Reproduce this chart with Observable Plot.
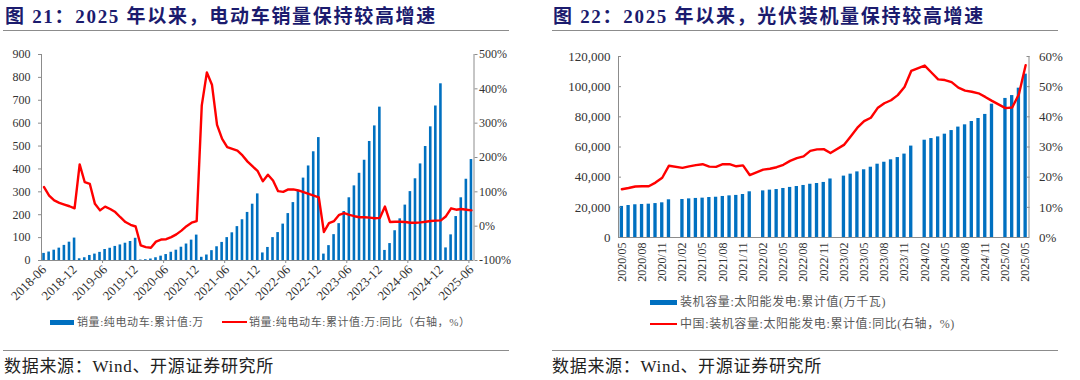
<!DOCTYPE html>
<html><head><meta charset="utf-8">
<script src="https://cdn.jsdelivr.net/npm/d3@7"></script>
<script src="https://cdn.jsdelivr.net/npm/@observablehq/plot@0.6"></script>
<style>
body{margin:0;background:#fff;width:1080px;height:380px;overflow:hidden;position:relative;font-family:"Liberation Serif","Noto Sans CJK SC",serif;}
.title{position:absolute;top:5px;font-weight:bold;color:#1b1b6e;font-size:19px;letter-spacing:1.7px;white-space:nowrap;line-height:24px;}
.rule{position:absolute;height:0;border-top:1.5px solid #8c8c8c;}
.src{position:absolute;top:355px;font-size:17px;letter-spacing:0.7px;color:#222;white-space:nowrap;line-height:24px;}
.chart{position:absolute;top:40px;}
.leg{position:absolute;font-size:11px;color:#595959;white-space:nowrap;line-height:14px;letter-spacing:0.6px;font-family:"Liberation Serif","Noto Sans CJK SC",serif;}
.sw{position:absolute;}
</style></head>
<body>
<div class="title" style="left:5px">图 21：2025 年以来，电动车销量保持较高增速</div>
<div class="title" style="left:553px">图 22：2025 年以来，光伏装机量保持较高增速</div>
<div class="rule" style="left:3px;width:506px;top:30px"></div>
<div class="rule" style="left:552px;width:506px;top:30px"></div>
<div id="c1" class="chart" style="left:0px"></div>
<div id="c2" class="chart" style="left:540px"></div>
<div class="sw" style="left:50px;top:320px;width:24px;height:5px;background:#0070C0"></div>
<div class="leg" style="left:77px;top:315px">销量:纯电动车:累计值:万</div>
<div class="sw" style="left:222px;top:321px;width:25px;height:2px;background:#ff0000"></div>
<div class="leg" style="left:249px;top:315px">销量:纯电动车:累计值:万:同比（右轴，%）</div>
<div class="sw" style="left:650px;top:300px;width:27px;height:5px;background:#0070C0"></div>
<div class="leg" style="left:680px;top:295px;font-size:12px;letter-spacing:0.6px">装机容量:太阳能发电:累计值(万千瓦)</div>
<div class="sw" style="left:650px;top:323px;width:27px;height:2px;background:#ff0000"></div>
<div class="leg" style="left:680px;top:317px;font-size:12px;letter-spacing:0.6px">中国:装机容量:太阳能发电:累计值:同比(右轴，%)</div>
<div class="rule" style="left:3px;width:506px;top:350px"></div>
<div class="rule" style="left:552px;width:506px;top:350px"></div>
<div class="src" style="left:4px">数据来源：Wind、开源证券研究所</div>
<div class="src" style="left:552px">数据来源：Wind、开源证券研究所</div>
<script>
// ---------- Chart 21: EV sales ----------
const evMonths = [
 "2018-06","2018-07","2018-08","2018-09","2018-10","2018-11","2018-12",
 "2019-01","2019-02","2019-03","2019-04","2019-05","2019-06","2019-07","2019-08","2019-09","2019-10","2019-11","2019-12",
 "2020-01","2020-02","2020-03","2020-04","2020-05","2020-06","2020-07","2020-08","2020-09","2020-10","2020-11","2020-12",
 "2021-01","2021-02","2021-03","2021-04","2021-05","2021-06","2021-07","2021-08","2021-09","2021-10","2021-11","2021-12",
 "2022-01","2022-02","2022-03","2022-04","2022-05","2022-06","2022-07","2022-08","2022-09","2022-10","2022-11","2022-12",
 "2023-01","2023-02","2023-03","2023-04","2023-05","2023-06","2023-07","2023-08","2023-09","2023-10","2023-11","2023-12",
 "2024-01","2024-02","2024-03","2024-04","2024-05","2024-06","2024-07","2024-08","2024-09","2024-10","2024-11","2024-12",
 "2025-01","2025-02","2025-03","2025-04","2025-05","2025-06"];
const evSales = [
 31,37,45,54,66,80,98,
 7.5,12,22,28,35.5,48,53.5,61.5,68,75.5,83,97,
 2,3.5,6.5,12,19,26,36,45,58,72,89,111,
 14,24,43,60,79,100,121,148,178,210,246,291,
 33,57,100,122,159,205,253,303,360,413,475,537,
 28,65,113,161,214,274,326,381,438,520,588,670,
 44,74,130,182,242,301,357,422,498,584,675,772,
 55,112,192,274,355,441];
const evYoY = [
 114,89,75,68,63,58,52,
 180,128,123,65,46,57,50,41,26,12,4,-1,
 -56,-61,-63,-45,-39,-38,-32,-24,-13,0,10,15,
 352,448,412,295,254,230,225,220,206,188,174,160,
 131,150,133,102,100,107,107,104,99,94,89,84,
 -17,9,15,33,38,33,29,26,26,25,23,24,
 57,12,13,13,12,10,10,11,13,15,16,17,
 29,52,48,50,48,46];
const evTickLabels = ["2018-06","2018-12","2019-06","2019-12","2020-06","2020-12","2021-06","2021-12","2022-06","2022-12","2023-06","2023-12","2024-06","2024-12","2025-06"];
const evLeftTicks = [0,100,200,300,400,500,600,700,800,900];
const evRightTicks = [-100,0,100,200,300,400,500];

// ---------- Chart 22: PV capacity ----------
const pvMonths = [
 "2020/05","2020/06","2020/07","2020/08","2020/09","2020/10","2020/11","2020/12",
 "2021/01","2021/02","2021/03","2021/04","2021/05","2021/06","2021/07","2021/08","2021/09","2021/10","2021/11","2021/12",
 "2022/01","2022/02","2022/03","2022/04","2022/05","2022/06","2022/07","2022/08","2022/09","2022/10","2022/11","2022/12",
 "2023/01","2023/02","2023/03","2023/04","2023/05","2023/06","2023/07","2023/08","2023/09","2023/10","2023/11","2023/12",
 "2024/01","2024/02","2024/03","2024/04","2024/05","2024/06","2024/07","2024/08","2024/09","2024/10","2024/11","2024/12",
 "2025/01","2025/02","2025/03","2025/04","2025/05"];
const pvCap = [
 20600,21200,21700,21900,22100,22500,23000,25000,
 null,25200,25600,25900,26100,26500,26700,27200,27600,27900,28500,30300,
 null,30900,31400,31800,32500,33200,33800,34500,35300,35800,36500,38800,
 null,40700,42000,43500,44900,46600,48600,49900,51500,53000,55300,60600,
 null,64500,65600,66700,68500,70900,73200,74700,76900,78900,81600,88400,
 null,92200,94100,99000,108300];
const pvYoY = [
 16.0,16.4,16.9,17.0,17.0,18.2,19.8,23.8,
 null,23.1,23.6,24.0,24.3,23.5,23.4,24.3,24.3,23.6,23.9,20.7,
 null,22.5,22.8,23.3,24.1,25.4,26.3,26.9,28.7,29.2,29.3,28.0,
 null,30.7,33.5,36.4,38.6,39.7,42.9,44.5,45.5,47.2,49.9,55.2,
 null,57.0,54.7,52.4,52.2,51.5,49.7,48.7,48.3,47.8,46.6,45.3,
 null,42.9,43.1,47.5,57.1];
const pvTickLabels = ["2020/05","2020/08","2020/11","2021/02","2021/05","2021/08","2021/11","2022/02","2022/05","2022/08","2022/11","2023/02","2023/05","2023/08","2023/11","2024/02","2024/05","2024/08","2024/11","2025/02","2025/05"];
const pvLeftTicks = [0,20000,40000,60000,80000,100000,120000];
const pvRightTicks = [0,10,20,30,40,50,60];

const BLUE = "#0070C0", RED = "#ff0000", AXIS = "#8c8c8c", TXT = "#333";
const FONT = '"Liberation Serif","Noto Sans CJK SC",serif';

// ----- chart 21 -----
{
  const data = evMonths.map((m, i) => ({i, m, v: evSales[i], p: evYoY[i]}));
  const n = evMonths.length;
  const toL = p => (p + 100) * 900 / 600;
  const fromL = v => v * 600 / 900 - 100;
  const tickIdx = evTickLabels.map(l => evMonths.indexOf(l));
  const bounds = d3.range(11.5, n, 12);
  const chart = Plot.plot({
    width: 540, height: 265,
    marginLeft: 41, marginRight: 66.5, marginTop: 14, marginBottom: 45,
    style: {fontFamily: FONT, fontSize: "12px", color: TXT, background: "transparent", overflow: "visible"},
    x: {type: "linear", domain: [-0.5, n - 0.5], axis: null},
    y: {domain: [0, 900], axis: null},
    marks: [
      Plot.rectY(data, {x1: d => d.i - 0.5, x2: d => d.i + 0.5, y: "v", fill: BLUE, insetLeft: 1.25, insetRight: 1.25}),
      Plot.ruleY([0], {stroke: AXIS}),
      Plot.ruleX([-0.5, n - 0.5], {stroke: AXIS}),
      Plot.line(data, {x: "i", y: d => toL(d.p), stroke: RED, strokeWidth: 2.4}),
      Plot.axisY({anchor: "left", ticks: evLeftTicks, tickSize: 3, tickPadding: 8, stroke: AXIS, fill: TXT, label: null, tickFormat: d => String(d)}),
      Plot.axisY({anchor: "right", ticks: evRightTicks.map(toL), tickSize: 3, tickPadding: 2, stroke: AXIS, fill: TXT, label: null, tickFormat: d => `${Math.round(fromL(d))}%`}),
      Plot.axisX({ticks: bounds, tickSize: 3, stroke: AXIS, tickFormat: () => "", label: null}),
      Plot.axisX({ticks: tickIdx, tickSize: 0, tickPadding: 7, tickRotate: -45, fill: TXT, label: null, fontSize: 13, tickFormat: i => evMonths[i]})
    ]
  });
  document.getElementById("c1").append(chart);
}

// ----- chart 22 -----
{
  const data = pvMonths.map((m, i) => ({i, m, v: pvCap[i], p: pvYoY[i]}));
  const n = pvMonths.length;
  const toL = p => p * 2000;
  const fromL = v => v / 2000;
  const tickIdx = pvTickLabels.map(l => pvMonths.indexOf(l));
  const chart = Plot.plot({
    width: 540, height: 250,
    marginLeft: 78, marginRight: 51.5, marginTop: 16, marginBottom: 53,
    style: {fontFamily: FONT, fontSize: "13px", color: TXT, background: "transparent", overflow: "visible"},
    x: {type: "linear", domain: [-0.5, n - 0.5], axis: null},
    y: {domain: [0, 120000], axis: null},
    marks: [
      Plot.rectY(data.filter(d => d.v != null), {x1: d => d.i - 0.5, x2: d => d.i + 0.5, y: "v", fill: BLUE, insetLeft: 1.7, insetRight: 1.7}),
      Plot.ruleY([0], {stroke: AXIS}),
      Plot.ruleX([-0.5, n - 0.5], {stroke: AXIS}),
      Plot.line(data.filter(d => d.p != null), {x: "i", y: d => toL(d.p), stroke: RED, strokeWidth: 2.4}),
      Plot.axisY({anchor: "left", ticks: pvLeftTicks, tickSize: -3, tickPadding: 11, stroke: AXIS, fill: TXT, label: null, tickFormat: d3.format(",")}),
      Plot.axisY({anchor: "right", ticks: pvRightTicks.map(toL), tickSize: -3, tickPadding: 13, stroke: AXIS, fill: TXT, label: null, tickFormat: d => `${Math.round(fromL(d))}%`}),
      Plot.axisX({ticks: tickIdx, tickSize: 0, tickPadding: 5, tickRotate: -90, fill: TXT, label: null, fontSize: 12, tickFormat: i => pvMonths[i]})
    ]
  });
  document.getElementById("c2").append(chart);
}
</script>
</body></html>
